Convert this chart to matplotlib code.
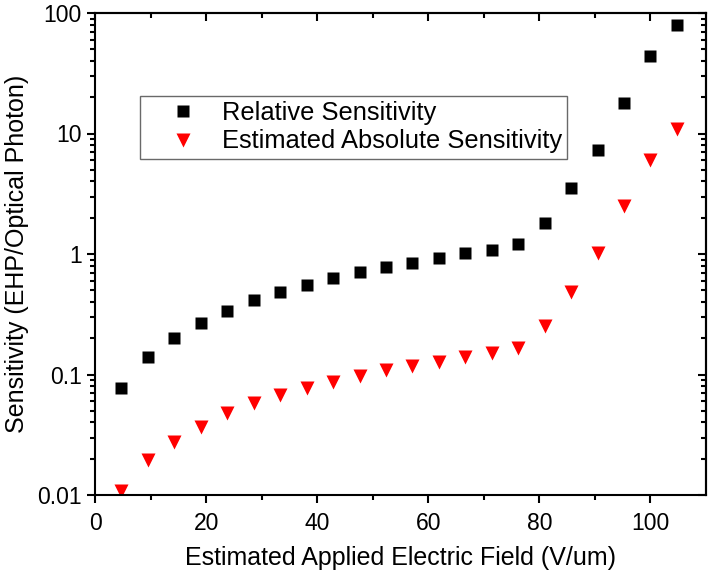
import matplotlib
matplotlib.use("Agg")
import matplotlib.pyplot as plt
from matplotlib.ticker import LogLocator, FixedLocator, FuncFormatter

plt.rcParams['font.family'] = ['Liberation Sans', 'DejaVu Sans']

# estimated applied field (V/um)
field = [4.76, 9.52, 14.29, 19.05, 23.81, 28.57, 33.33, 38.10, 42.86, 47.62,
         52.38, 57.14, 61.90, 66.67, 71.43, 76.19, 80.95, 85.71, 90.48,
         95.24, 100.0, 104.76]
relative = [0.0767, 0.139, 0.200, 0.266, 0.339, 0.415, 0.487, 0.556, 0.629,
            0.705, 0.785, 0.847, 0.933, 1.01, 1.08, 1.20, 1.82, 3.51, 7.30,
            18.0, 44.0, 79.5]
absolute = [0.0107, 0.0195, 0.0277, 0.0369, 0.0476, 0.0577, 0.0676, 0.0768,
            0.0871, 0.0971, 0.109, 0.118, 0.128, 0.141, 0.150, 0.167, 0.253,
            0.487, 1.01, 2.50, 6.03, 10.9]

fig = plt.figure(figsize=(7.09, 5.72), dpi=100)
ax = fig.add_axes([95 / 709, 1 - 495 / 572, (706 - 95) / 709, (495 - 13) / 572])

ax.plot(field, relative, 's', color='black', ms=8.8, mec='none',
        label='Relative Sensitivity')
ax.plot(field, absolute, 'v', color='#ff0000', ms=9.8, mec='none',
        label='Estimated Absolute Sensitivity')

ax.set_yscale('log')
ax.set_xlim(0, 110)
ax.set_ylim(0.01, 100)

ax.xaxis.set_major_locator(FixedLocator([0, 20, 40, 60, 80, 100]))
ax.xaxis.set_minor_locator(FixedLocator([10, 30, 50, 70, 90]))
ax.yaxis.set_major_locator(LogLocator(base=10, numticks=10))
ax.yaxis.set_minor_locator(LogLocator(base=10, subs=range(2, 10), numticks=20))
ax.yaxis.set_major_formatter(FuncFormatter(lambda v, p: f'{v:g}'))

for side in ['left', 'right', 'top', 'bottom']:
    ax.spines[side].set_linewidth(1.5)

ax.tick_params(which='both', direction='out', width=1.5,
               labelsize=16.5, colors='black')
ax.tick_params(which='major', length=6)
ax.tick_params(which='minor', length=3.5)
ax.tick_params(axis='x', which='major', pad=6)

# mirrored ticks on top/right, pointing inwards
ax_top = ax.secondary_xaxis('top')
ax_top.set_xticks([0, 20, 40, 60, 80, 100])
ax_top.xaxis.set_minor_locator(FixedLocator([10, 30, 50, 70, 90]))
ax_top.tick_params(which='both', direction='in', width=1.5, labeltop=False)
ax_top.tick_params(which='major', length=6)
ax_top.tick_params(which='minor', length=3.5)
ax_top.spines['top'].set_linewidth(1.5)

ax_right = ax.secondary_yaxis('right')
ax_right.yaxis.set_major_locator(LogLocator(base=10, numticks=10))
ax_right.yaxis.set_minor_locator(LogLocator(base=10, subs=range(2, 10), numticks=20))
ax_right.tick_params(which='both', direction='in', width=1.5, labelright=False)
ax_right.tick_params(which='major', length=6)
ax_right.tick_params(which='minor', length=3.5)
ax_right.spines['right'].set_linewidth(1.5)

ax.set_xlabel('Estimated Applied Electric Field (V/um)', fontsize=18, labelpad=8)
ax.set_ylabel('Sensitivity (EHP/Optical Photon)', fontsize=18, labelpad=6)

leg = ax.legend(loc='upper left', bbox_to_anchor=(45 / 611, 1 - 83 / 482),
                fontsize=18.4, frameon=True, fancybox=False, borderpad=0.2,
                handletextpad=0.0, labelspacing=0.17, borderaxespad=0,
                handlelength=3.0)
leg.get_frame().set_edgecolor('#444444')
leg.get_frame().set_linewidth(1.0)

fig.savefig('out.png', dpi=100)
